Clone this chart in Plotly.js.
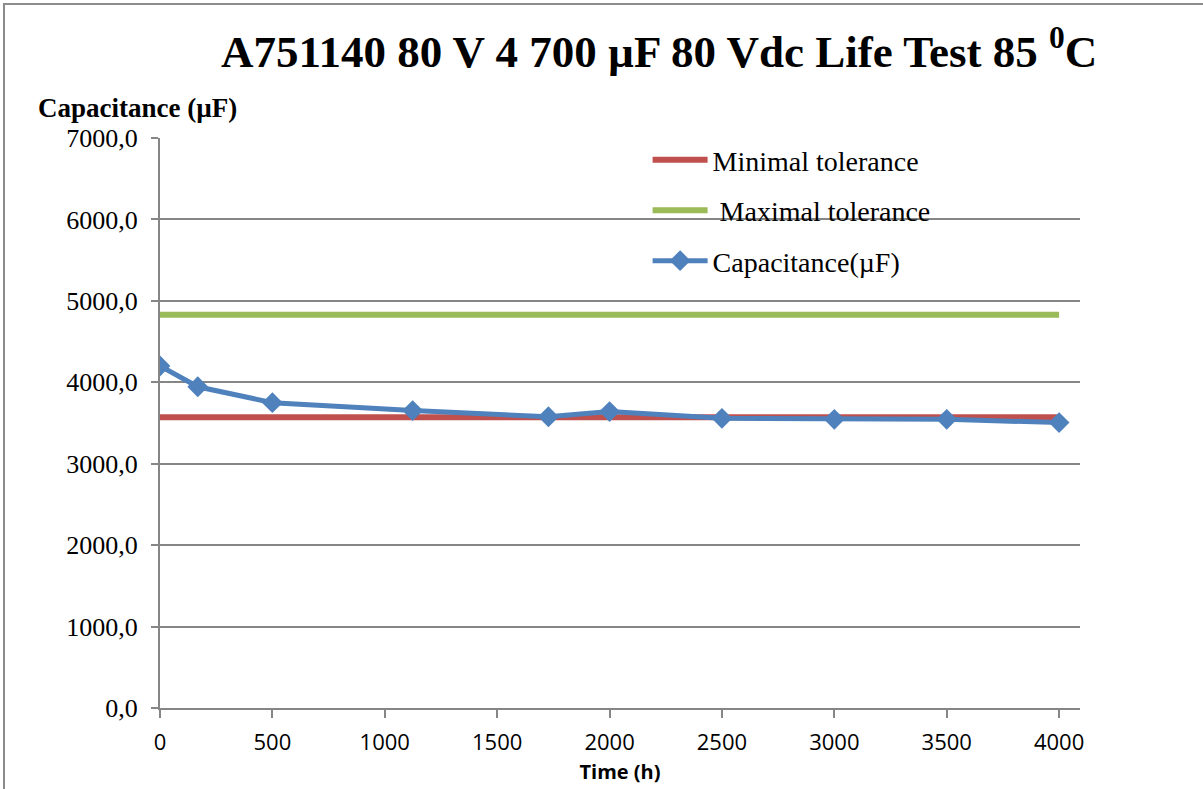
<!DOCTYPE html>
<html>
<head>
<meta charset="utf-8">
<script src="https://cdn.plot.ly/plotly-3.0.1.min.js"></script>
<style>
html,body{margin:0;padding:0;background:#fff;}
#chart{position:absolute;left:0;top:0;width:1203px;height:789px;}
#frame{position:absolute;left:3px;top:3px;width:1200px;height:786px;border-left:2px solid #8c8c8c;border-top:2px solid #8c8c8c;pointer-events:none;box-sizing:border-box;}
</style>
</head>
<body>
<div id="chart"></div>
<div id="frame"></div>
<script>
// Data
const timeHours = [0, 168, 500, 1124, 1728, 2000, 2500, 3000, 3500, 4000];
const capacitance = [4200, 3945, 3750, 3652, 3577, 3640, 3558, 3545, 3545, 3505];
const toleranceX = [0, 4000];
const minTolerance = [3570, 3570];
const maxTolerance = [4830, 4830];
const seriesNames = ["Minimal tolerance", " Maximal tolerance", "Capacitance(µF)"];
const yTickValues = [0, 1000, 2000, 3000, 4000, 5000, 6000, 7000];
const xTickValues = [0, 500, 1000, 1500, 2000, 2500, 3000, 3500, 4000];

const serif = "Liberation Serif, Times New Roman, serif";
const traces = [
  {x: toleranceX, y: minTolerance, name: seriesNames[0], type: 'scatter', mode: 'lines',
   line: {color: '#C0504D', width: 6}, legendgroup: 'a', hoverinfo: 'skip'},
  {x: toleranceX, y: maxTolerance, name: seriesNames[1], type: 'scatter', mode: 'lines',
   line: {color: '#9BBB59', width: 6}, legendgroup: 'b', hoverinfo: 'skip'},
  {x: timeHours, y: capacitance, name: seriesNames[2], type: 'scatter', mode: 'lines+markers',
   line: {color: '#4F81BD', width: 5},
   marker: {symbol: 'diamond', size: 16, color: '#4F81BD'}, legendgroup: 'c'}
];

const layout = {
  width: 1203, height: 789,
  paper_bgcolor: '#ffffff', plot_bgcolor: '#ffffff',
  margin: {l: 160, r: 123, t: 138, b: 81},
  separators: ',.',
  title: {text: 'A751140 80 V 4 700 µF 80 Vdc Life Test 85 <sup>0</sup>C',
          font: {family: serif, size: 45, color: '#000', weight: 'bold'},
          x: 0.5425, xref: 'paper', xanchor: 'center', y: 0.935, yanchor: 'middle'},
  xaxis: {range: [0, 4093], tickvals: xTickValues, ticktext: xTickValues.map(String),
          showgrid: false, zeroline: false, showline: true, linecolor: '#868686', linewidth: 2,
          ticks: 'outside', ticklen: 8, tickcolor: '#868686', tickwidth: 2, ticklabelstandoff: 6,
          tickfont: {family: 'Open Sans, Noto Sans, sans-serif', size: 22, color: '#000'},
          title: {text: '<b>Time (h)</b>', font: {family: 'Open Sans, sans-serif', size: 20, color: '#000'}, standoff: 10}},
  yaxis: {range: [0, 7000], tickvals: yTickValues, tickformat: '.1f',
          showgrid: true, gridcolor: '#868686', gridwidth: 2, zeroline: false,
          showline: true, linecolor: '#868686', linewidth: 2,
          ticks: 'outside', ticklen: 7, tickcolor: '#868686', tickwidth: 2, ticklabelstandoff: 8,
          tickfont: {family: serif, size: 26, color: '#000'}},
  legend: {x: 0.53, xanchor: 'left', y: 1.005, yanchor: 'top',
           bgcolor: 'rgba(0,0,0,0)', itemwidth: 55, tracegroupgap: 11,
           font: {family: serif, size: 28, color: '#000'}},
  annotations: [{text: '<b>Capacitance (µF)</b>', xref: 'paper', yref: 'paper',
                 x: -0.135, y: 1.053, xanchor: 'left', yanchor: 'middle', showarrow: false,
                 font: {family: serif, size: 27, color: '#000'}}],
  showlegend: true
};

Plotly.newPlot('chart', traces, layout, {displayModeBar: false, staticPlot: true});
</script>
</body>
</html>
